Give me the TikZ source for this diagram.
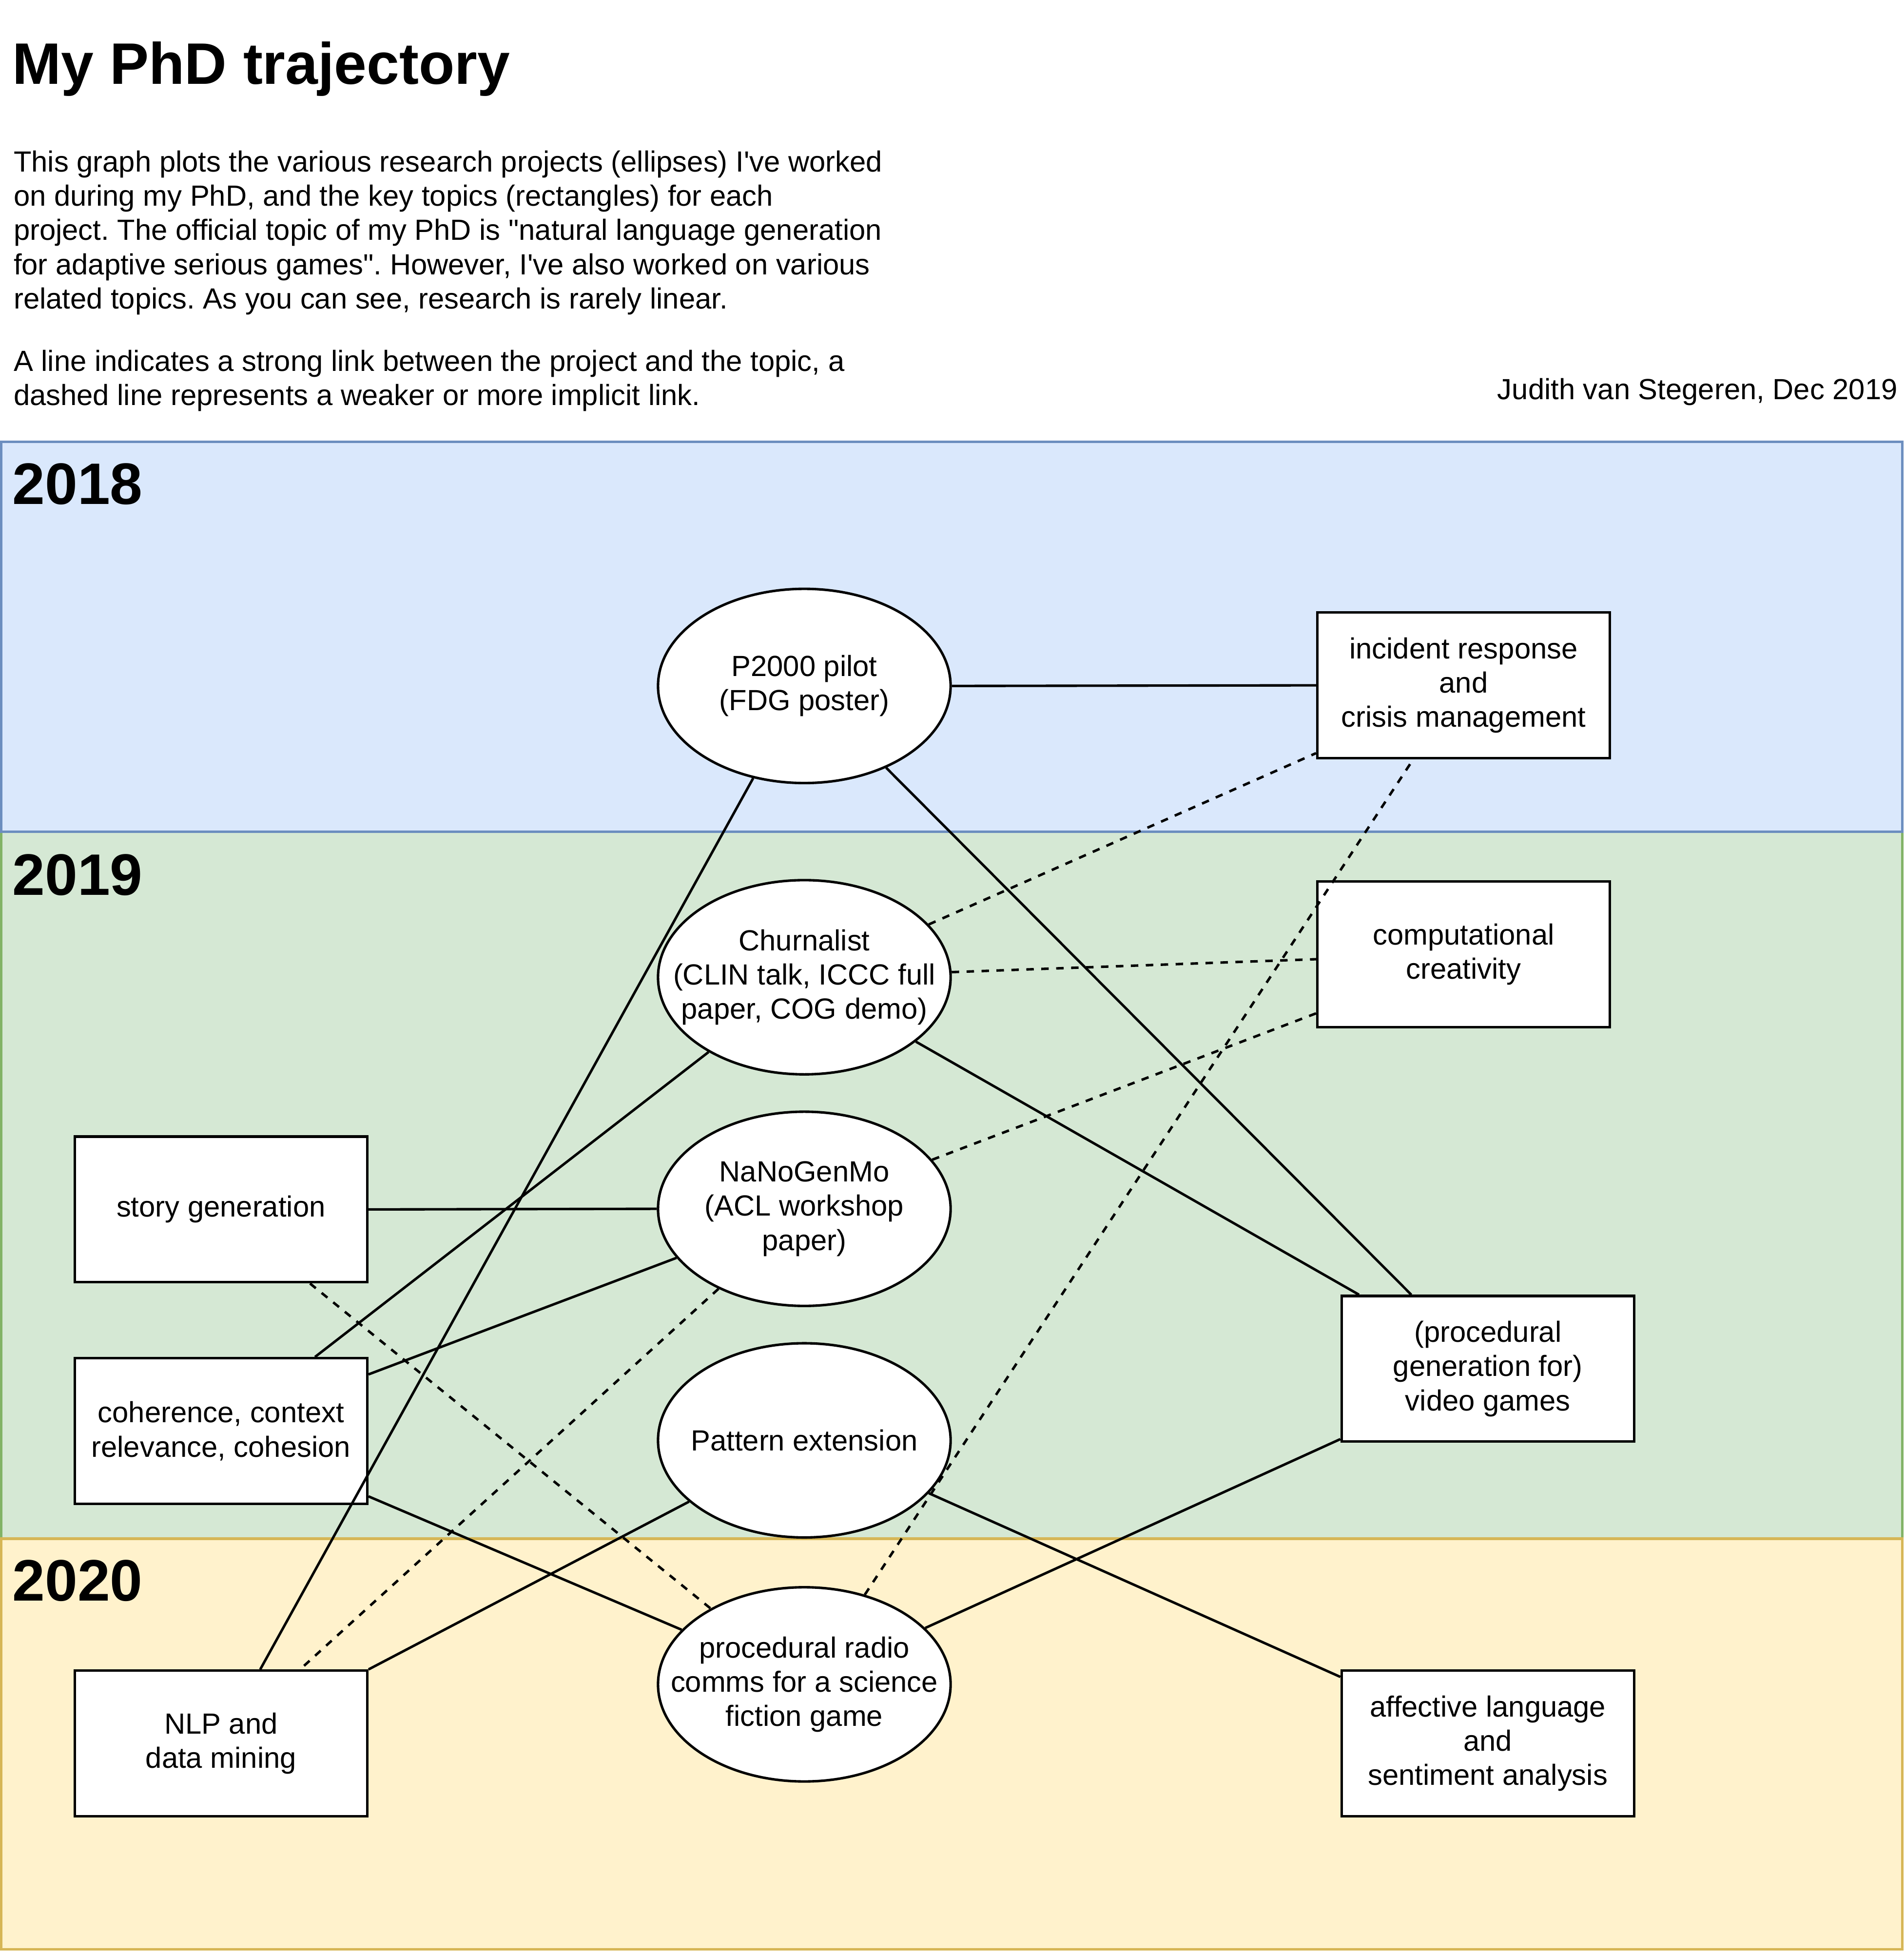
\documentclass[tikz,border=0pt]{standalone}
\usepackage{fontspec}
\usepackage{tikz}
\usetikzlibrary{shapes.geometric,calc}
\newfontfamily\drawfont{Liberation Sans}
\frenchspacing
\definecolor{fill2018}{HTML}{DAE8FC}
\definecolor{line2018}{HTML}{6C8EBF}
\definecolor{fill2019}{HTML}{D5E8D4}
\definecolor{line2019}{HTML}{82B366}
\definecolor{fill2020}{HTML}{FFF2CC}
\definecolor{line2020}{HTML}{D6B656}

\begin{document}
\begin{tikzpicture}[x=0.5pt,y=-0.5pt,line width=1pt,
		every node/.style={font=\drawfont\frenchspacing\fontsize{11.7}{13.75}\selectfont},
		project/.style={ellipse,draw,fill=white,minimum width=117.5pt,minimum height=78pt,inner xsep=-15pt,inner ysep=0pt,align=center},
		topic/.style={rectangle,draw,fill=white,minimum width=117.5pt,minimum height=58.5pt,align=center},
		year/.style={anchor=base west,inner sep=0pt,font=\drawfont\bfseries\fontsize{23.5}{28}\selectfont},
		weak/.style={dashed}]
		\useasboundingbox (0,0) rectangle (1529,1568);
		\path[draw=line2019,fill=fill2019] (1,668) rectangle (1528,1236);
		\path[draw=line2018,fill=fill2018] (1,355) rectangle (1528,668);
		\path[draw=line2020,fill=fill2020] (1,1236) rectangle (1528,1566);

		\node[year] (title) at (9,67.5) {My PhD trajectory};
		\node[anchor=north west,inner sep=0pt,align=left] (intro) at (10,120) {This graph plots the various research projects (ellipses) I've worked\\on during my PhD, and the key topics (rectangles) for each\\project. The official topic of my PhD is "natural language generation\\for adaptive serious games". However, I've also worked on various\\related topics. As you can see, research is rarely linear.};
		\node[anchor=north west,inner sep=0pt,align=left] (legend) at (10,280) {A line indicates a strong link between the project and the topic, a\\dashed line represents a weaker or more implicit link.};
		\node[anchor=base east,inner sep=0pt] (author) at (1525,321) {Judith van Stegeren, Dec 2019};
		\node[year] (y2018) at (9,405) {2018};
		\node[year] (y2019) at (9,719) {2019};
		\node[year] (y2020) at (9,1286) {2020};

		\node[project] (p2000)   at (646,551)  {P2000 pilot\\(FDG poster)};
		\node[project] (churn)   at (646,785)  {Churnalist\\(CLIN talk, ICCC full\\paper, COG demo)};
		\node[project] (nano)    at (646,971)  {NaNoGenMo\\(ACL workshop\\paper)};
		\node[project] (pattern) at (646,1157) {Pattern extension};
		\node[project] (radio)   at (646,1353) {procedural radio\\comms for a science\\fiction game};

		\node[topic] (crisis)    at (1175.5,550.5)  {incident response\\and\\crisis management};
		\node[topic] (cc)        at (1175.5,766.5)  {computational\\creativity};
		\node[topic] (story)     at (177.5,971.5)   {story generation};
		\node[topic] (coherence) at (177.5,1149.5)  {coherence, context\\relevance, cohesion};
		\node[topic] (games)     at (1195,1099.5)   {(procedural\\generation for)\\video games};
		\node[topic] (nlp)       at (177.5,1400.5)  {NLP and\\data mining};
		\node[topic] (affect)    at (1195,1400.5)   {affective language\\and\\sentiment analysis};

		\path
			(p2000.east) edge (crisis.west)
			(p2000.-119) edge ($(nlp.north west)+(150,0)$)
			(p2000.-45)  edge ($(games.north west)+(57,0)$)
			(churn.23)   edge [weak] ($(crisis.south west)+(0,-5)$)
			(churn.2)    edge [weak] ($(cc.west)+(0,4)$)
			(churn.-142) edge ($(coherence.north west)+(194,0)$)
			(churn.-30)  edge ($(games.north west)+(15,0)$)
			(nano.21)    edge [weak] ($(cc.south west)+(0,-12)$)
			(story.east) edge (nano.west)
			(nano.-159)  edge ($(coherence.north east)+(0,14)$)
			(nano.-137)  edge [weak] ($(nlp.north west)+(182,0)$)
			($(story.south west)+(190,0)$) edge [weak] (radio.141)
			(pattern.-152) edge (nlp.north east)
			(pattern.-23)  edge ($(affect.north west)+(0,6)$)
			($(coherence.south east)+(0,-7)$) edge (radio.156)
			(radio.25)   edge ($(games.south west)+(0,-3)$)
			(radio.56)   edge [weak] ($(crisis.south west)+(78,0)$);
	\end{tikzpicture}
\end{document}
